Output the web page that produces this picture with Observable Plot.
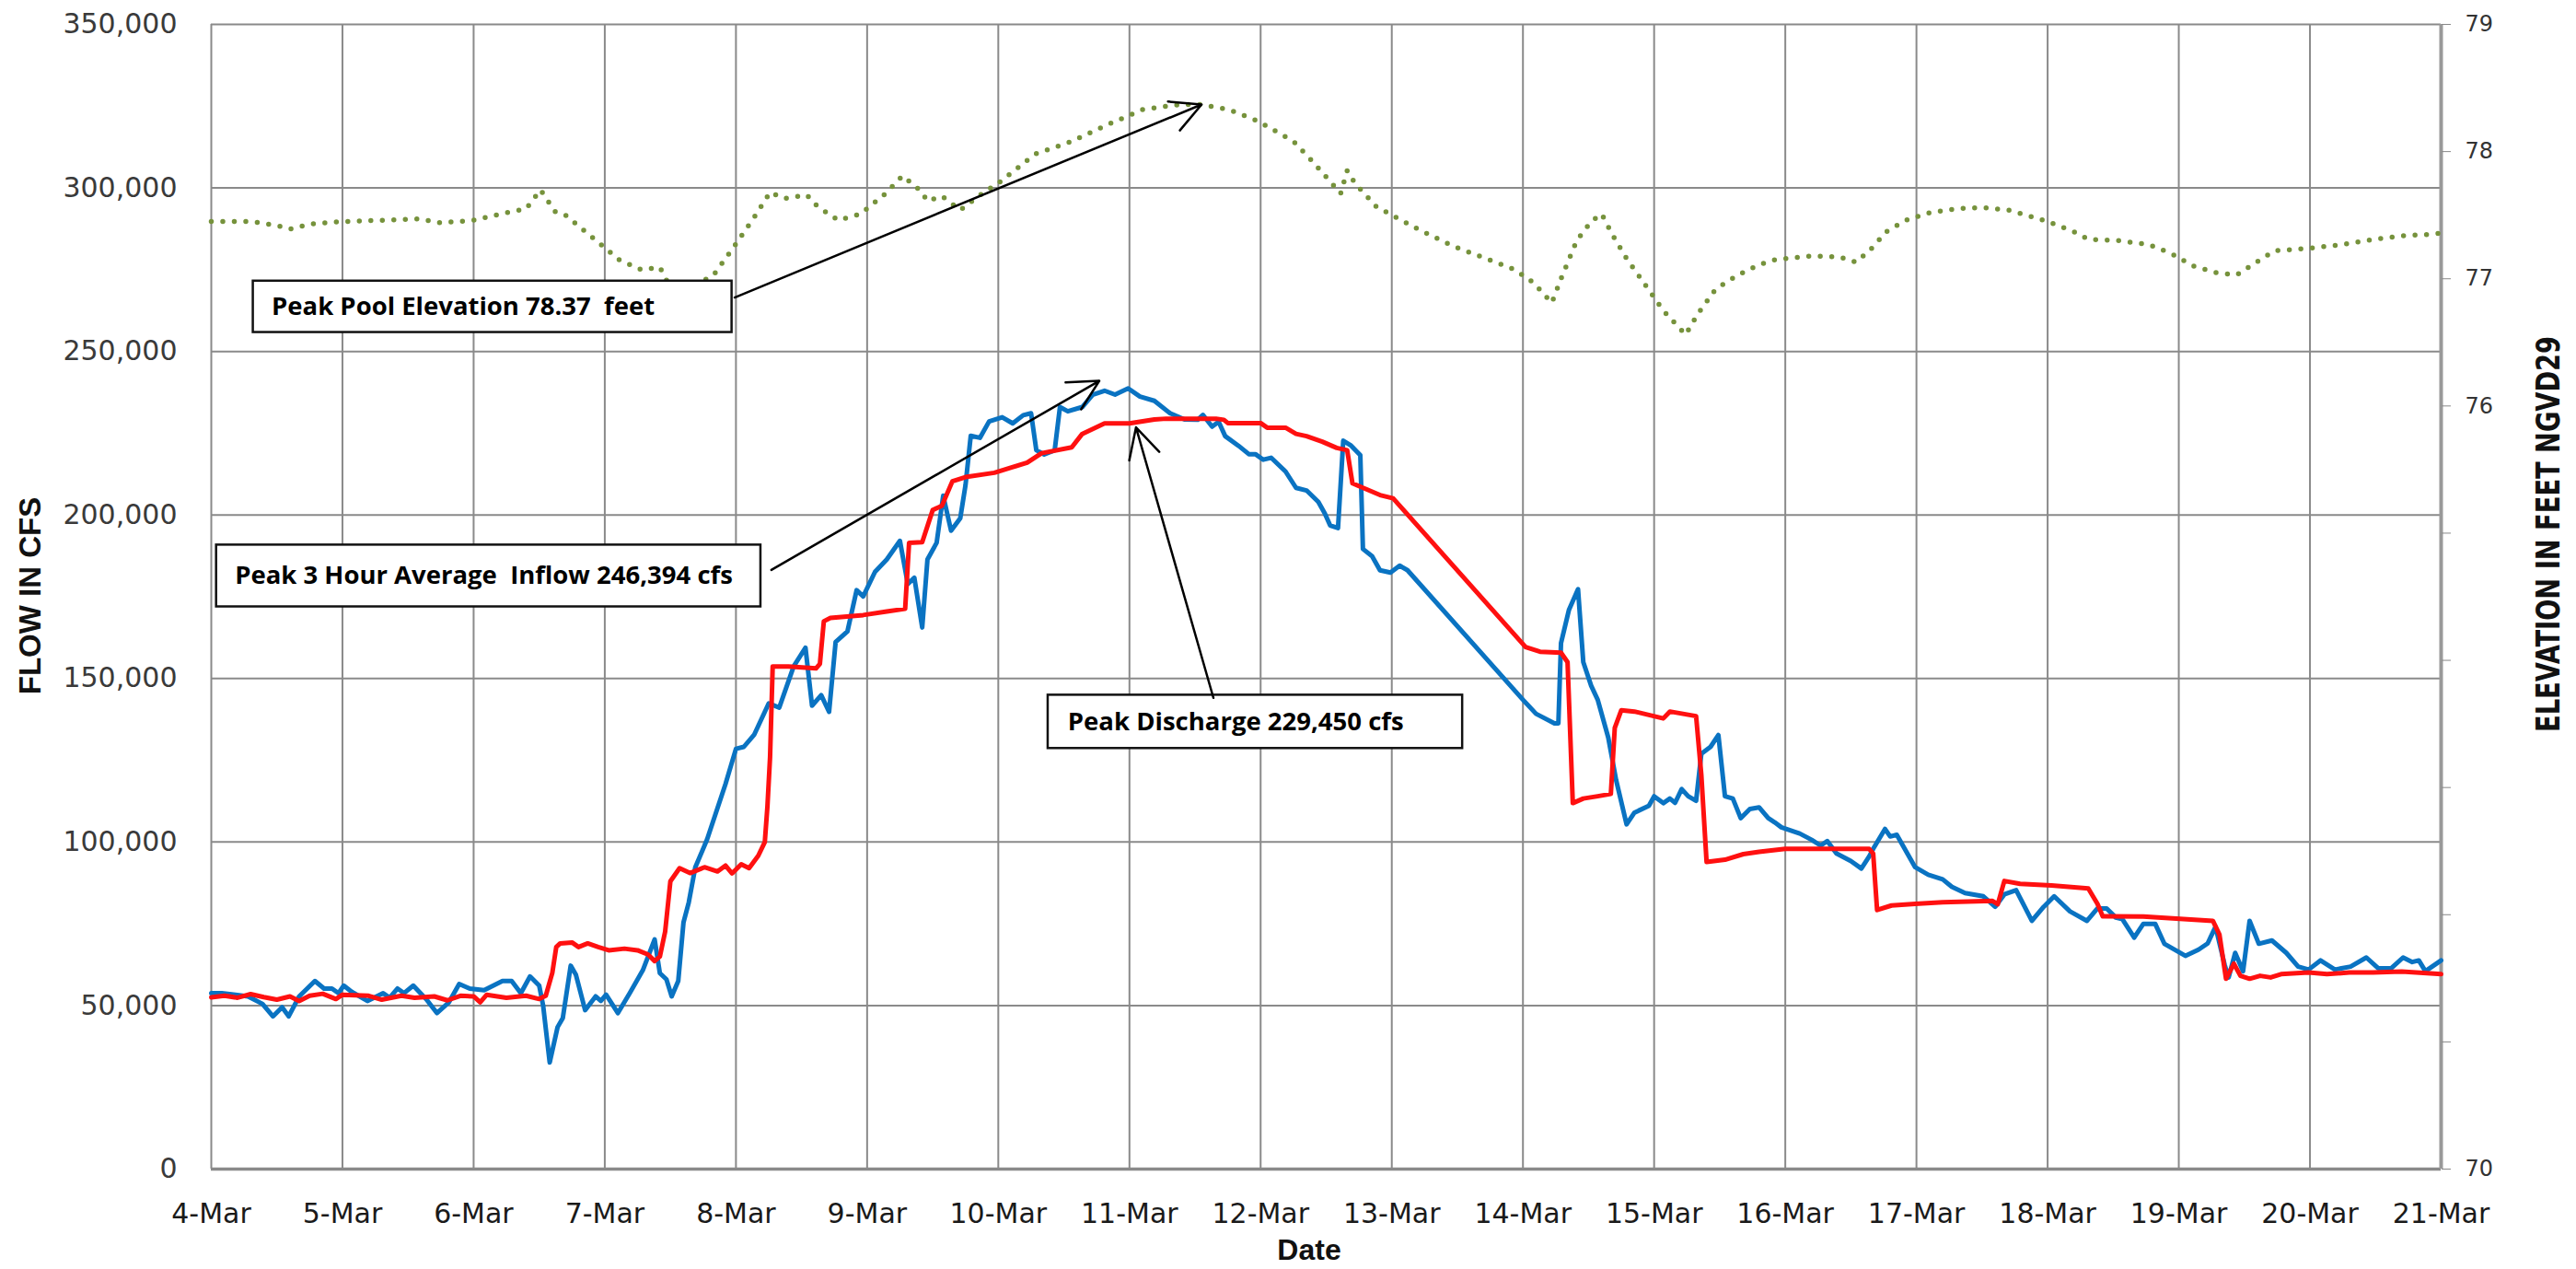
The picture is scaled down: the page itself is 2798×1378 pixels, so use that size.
<!DOCTYPE html>
<html><head><meta charset="utf-8">
<script src="https://cdn.jsdelivr.net/npm/d3@7"></script>
<script src="https://cdn.jsdelivr.net/npm/@observablehq/plot@0.6"></script>
<style>
html,body{margin:0;padding:0;background:#fff;}
#chart{width:2798px;height:1378px;overflow:hidden;}
</style></head><body><div id="chart"></div>
<script>
// ---- Axis categories / ticks ----
const days = d3.range(0, 18);                 // 0 = 4-Mar ... 17 = 21-Mar
const dayLabels = days.map(d => `${4 + d}-Mar`);
const flowTicks = d3.range(0, 350001, 50000);
const elevTicks = d3.range(70, 80);
const elevLabeled = [70, 76, 77, 78, 79];

// ---- Series: [day offset from 4-Mar, cfs] ----
const inflow = [
[0.00,53800],[0.08,53800],[0.28,52800],[0.39,50500],[0.47,46700],[0.54,49500],[0.59,46700],[0.67,52800],
[0.79,57500],[0.86,55200],[0.92,55200],[0.97,53800],[1.01,56100],[1.07,54200],[1.19,51400],[1.31,53800],
[1.36,52400],[1.42,55200],[1.47,53800],[1.54,56100],[1.64,51900],[1.72,47700],[1.81,50900],[1.89,56600],
[1.97,55200],[2.08,54700],[2.22,57500],[2.29,57500],[2.36,53800],[2.43,58900],[2.50,56100],[2.53,50000],
[2.58,32600],[2.64,43400],[2.68,46200],[2.74,62200],[2.78,59400],[2.85,48600],[2.93,52800],[2.97,51400],
[3.01,53300],[3.10,47700],[3.19,53800],[3.29,60800],[3.38,70200],[3.42,59900],[3.47,58000],[3.51,52800],
[3.56,57500],[3.60,75400],[3.64,81500],[3.69,92300],[3.78,100800],[3.92,117700],[4.00,128500],[4.06,129100],
[4.14,132900],[4.25,142400],[4.33,141100],[4.44,153700],[4.53,159400],[4.58,141700],[4.65,144900],[4.71,139800],
[4.76,161200],[4.85,164400],[4.92,177000],[4.97,175100],[5.06,182600],[5.15,186400],[5.25,192100],[5.31,178900],
[5.36,180800],[5.42,165600],[5.46,186400],[5.53,191500],[5.58,205900],[5.64,195200],[5.71,199000],[5.75,209100],
[5.79,224200],[5.86,223600],[5.93,228600],[6.03,229900],[6.11,228000],[6.19,230500],[6.25,231100],[6.29,219800],
[6.35,218500],[6.43,219800],[6.47,233000],[6.53,231700],[6.64,233000],[6.72,236800],[6.81,238000],[6.89,236800],
[6.99,238700],[7.08,236200],[7.19,234900],[7.31,231100],[7.42,229200],[7.52,229100],[7.56,230600],[7.63,227000],
[7.68,228500],[7.73,224100],[7.83,221200],[7.91,218600],[7.96,218600],[8.02,216900],[8.08,217500],[8.19,213300],
[8.27,208300],[8.35,207500],[8.44,204000],[8.49,200400],[8.53,196800],[8.59,196000],[8.63,222700],[8.69,221200],
[8.76,218300],[8.78,189600],[8.85,187400],[8.91,183100],[8.99,182400],[9.06,184500],[9.12,183100],[10.00,143500],
[10.10,139200],[10.24,136300],[10.27,136300],[10.29,160800],[10.35,170900],[10.42,177300],[10.46,155000],[10.52,147800],
[10.57,143500],[10.65,132000],[10.71,119000],[10.79,105400],[10.85,109000],[10.96,111100],[11.00,114000],[11.07,111900],
[11.12,113300],[11.16,112000],[11.21,116200],[11.26,114000],[11.32,112600],[11.36,127000],[11.43,129100],[11.49,132700],
[11.54,114000],[11.60,113300],[11.66,107300],[11.73,110100],[11.80,110600],[11.87,107300],[11.92,106000],[11.97,104500],
[12.11,102600],[12.20,100700],[12.27,98900],[12.32,100300],[12.39,96500],[12.50,94200],[12.58,91900],[12.64,95600],
[12.67,97900],[12.76,104000],[12.80,101700],[12.85,102200],[12.99,92300],[13.09,90000],[13.20,88600],[13.27,86300],
[13.37,84400],[13.51,83400],[13.60,80200],[13.67,84000],[13.76,85300],[13.88,75900],[13.97,80200],[14.05,83400],
[14.17,78800],[14.30,75900],[14.38,79700],[14.45,79700],[14.52,76900],[14.57,76400],[14.66,70800],[14.73,75000],
[14.82,75000],[14.89,68900],[15.05,65200],[15.15,67100],[15.22,69000],[15.28,74100],[15.35,62400],[15.38,58600],
[15.43,66100],[15.49,60500],[15.54,75900],[15.61,68900],[15.71,69900],[15.82,66100],[15.91,61900],[15.99,61000],
[16.08,63800],[16.19,61000],[16.31,61900],[16.43,64700],[16.52,61400],[16.62,61400],[16.71,64700],[16.78,63300],
[16.83,63800],[16.88,60500],[17.00,63800]
];

const discharge = [
[0.00,52500],[0.10,53000],[0.20,52400],[0.30,53500],[0.40,52600],[0.50,51800],[0.60,52800],[0.67,51400],
[0.75,53000],[0.85,53600],[0.95,52000],[1.00,53300],[1.20,53000],[1.30,51800],[1.45,53000],[1.55,52400],
[1.70,52800],[1.80,51600],[1.90,53000],[2.00,52800],[2.05,51000],[2.10,53300],[2.25,52400],[2.40,53000],
[2.50,52000],[2.55,53000],[2.60,60000],[2.63,67900],[2.66,69000],[2.75,69300],[2.80,67900],[2.87,69000],
[2.95,67900],[3.03,66900],[3.15,67400],[3.25,66900],[3.33,65600],[3.38,63600],[3.42,65000],[3.46,72600],
[3.50,88000],[3.57,92000],[3.65,90500],[3.76,92300],[3.86,91000],[3.92,92800],[3.97,90400],[4.04,93200],
[4.10,92000],[4.17,95800],[4.22,100000],[4.24,110900],[4.26,126000],[4.28,153700],[4.40,153700],[4.61,153100],
[4.64,154500],[4.67,167500],[4.72,168500],[4.97,169400],[5.15,170500],[5.29,171300],[5.32,191500],[5.42,191700],
[5.50,201500],[5.57,202800],[5.65,210300],[5.75,211600],[5.97,212900],[6.10,214500],[6.22,216000],[6.33,218900],
[6.56,220700],[6.64,224800],[6.81,228000],[7.00,228000],[7.19,229200],[7.28,229450],[7.50,229450],[7.66,229450],
[7.72,229100],[7.75,228100],[8.00,228100],[8.05,226700],[8.19,226700],[8.27,224800],[8.35,224100],[8.47,222400],
[8.58,220500],[8.66,219800],[8.70,209700],[8.74,209000],[8.91,206100],[9.01,205100],[10.02,159600],[10.13,158200],
[10.29,157900],[10.34,155000],[10.38,111900],[10.46,113300],[10.57,114000],[10.67,114700],[10.70,134900],[10.75,140300],
[10.85,139900],[11.07,137800],[11.12,139900],[11.32,138500],[11.36,120500],[11.40,93900],[11.54,94600],[11.68,96300],
[11.80,97000],[12.00,97900],[12.64,97900],[12.67,96500],[12.70,79200],[12.81,80600],[12.99,81100],[13.20,81600],
[13.58,82000],[13.62,81000],[13.67,88100],[13.79,87200],[14.03,86700],[14.31,85800],[14.38,81100],[14.42,77300],
[14.73,77200],[15.26,75900],[15.31,71700],[15.36,58200],[15.42,62800],[15.47,59100],[15.54,58200],[15.62,59100],
[15.70,58600],[15.78,59600],[15.99,60100],[16.13,59600],[16.30,60100],[16.48,60100],[16.70,60400],[17.00,59600]
];

// ---- Pool elevation: [day offset, feet NGVD29] ----
const poolElev = [
[0.00,77.45],[0.30,77.45],[0.50,77.42],[0.60,77.39],[0.75,77.43],[1.00,77.45],[1.30,77.46],[1.58,77.47],
[1.75,77.44],[2.00,77.46],[2.25,77.52],[2.40,77.55],[2.51,77.70],[2.62,77.53],[2.70,77.50],[2.90,77.33],
[3.11,77.15],[3.28,77.07],[3.42,77.09],[3.47,76.99],[3.60,76.90],[3.83,77.03],[3.99,77.26],[4.15,77.50],
[4.26,77.68],[4.37,77.63],[4.54,77.66],[4.62,77.57],[4.78,77.46],[4.95,77.51],[5.14,77.67],[5.27,77.81],
[5.41,77.69],[5.46,77.61],[5.57,77.65],[5.71,77.54],[5.85,77.65],[6.01,77.76],[6.28,77.98],[6.56,78.08],
[6.83,78.21],[7.10,78.33],[7.38,78.37],[7.54,78.37],[7.76,78.33],[7.98,78.24],[8.20,78.11],[8.26,78.07],
[8.38,77.94],[8.50,77.80],[8.61,77.67],[8.66,77.85],[8.72,77.75],[8.88,77.57],[9.00,77.50],[9.20,77.39],
[9.46,77.26],[9.74,77.15],[9.94,77.07],[10.08,76.97],[10.22,76.81],[10.29,77.00],[10.41,77.30],[10.52,77.45],
[10.60,77.51],[10.68,77.35],[10.79,77.16],[10.92,76.97],[11.07,76.75],[11.24,76.56],[11.33,76.72],[11.47,76.92],
[11.64,77.03],[11.80,77.11],[11.92,77.15],[12.20,77.18],[12.42,77.17],[12.54,77.13],[12.65,77.23],[12.77,77.37],
[12.92,77.46],[13.10,77.52],[13.30,77.55],[13.50,77.56],[13.70,77.54],[13.84,77.50],[14.00,77.45],[14.20,77.37],
[14.31,77.31],[14.54,77.30],[14.77,77.27],[14.94,77.20],[15.11,77.10],[15.28,77.05],[15.44,77.03],[15.56,77.11],
[15.73,77.22],[16.00,77.24],[16.25,77.27],[16.49,77.31],[16.72,77.34],[16.94,77.35],[17.00,77.36]
];

// ---- Annotation texts and anchors (data coordinates) ----
const noteTexts = ["Peak Pool Elevation 78.37  feet", "Peak 3 Hour Average  Inflow 246,394 cfs", "Peak Discharge 229,450 cfs"];
const noteBoxes = [
  {x1: 0.32, x2: 3.97, y1: 255800, y2: 271500, tx: 0.46, ty: 263600},
  {x1: 0.04, x2: 4.19, y1: 171900, y2: 190800, tx: 0.18, ty: 181400},
  {x1: 6.38, x2: 9.54, y1: 128600, y2: 144900, tx: 6.53, ty: 136700}
];
const noteArrows = [
  {x1: 3.99, y1: 266500, x2: 7.55, e2: 78.37},
  {x1: 4.27, y1: 183200, x2: 6.77, y2: 241000},
  {x1: 7.64, y1: 144100, x2: 7.05, y2: 226800}
];

// ---- Build ----
const elevToFlow = e => (e - 70) / 9 * 350000;
const flowToElev = q => q * 9 / 350000 + 70;

const inflowData = inflow.map(([d, q]) => ({d, q}));
const dischargeData = discharge.map(([d, q]) => ({d, q}));
const elevData = poolElev.map(([d, e]) => ({d, q: elevToFlow(e)}));
const boxes = noteBoxes.map((b, i) => ({...b, text: noteTexts[i]}));
const arrows = noteArrows.map(a => ({...a, y2: a.e2 !== undefined ? elevToFlow(a.e2) : a.y2}));

const gridColor = "#8a8a8a";

const chart = Plot.plot({
  width: 2798, height: 1378,
  marginLeft: 229, marginRight: 147, marginTop: 26, marginBottom: 109,
  style: {background: "#fff", fontFamily: "'DejaVu Sans', sans-serif", overflow: "visible"},
  x: {domain: [0, 17], label: null},
  y: {domain: [0, 350000], label: null},
  marks: [
    Plot.gridX(days, {stroke: gridColor, strokeOpacity: 1, strokeWidth: 2}),
    Plot.gridY(flowTicks, {stroke: gridColor, strokeOpacity: 1, strokeWidth: 2}),
    Plot.ruleY([0], {stroke: gridColor, strokeWidth: 3.5}),
    Plot.ruleX([17], {stroke: "#999", strokeWidth: 4}),
    Plot.axisX(days, {tickSize: 0, tickPadding: 37, fontSize: 30, tickFormat: d => dayLabels[d], color: "#1a1a1a", label: null}),
    Plot.axisY(flowTicks, {tickSize: 0, tickPadding: 37, fontSize: 30, tickFormat: d3.format(","), color: "#3a3a3a", label: null}),
    Plot.axisY(elevTicks.map(elevToFlow), {anchor: "right", tickSize: 10, tickPadding: 16, fontSize: 24,
      tickFormat: q => { const e = Math.round(flowToElev(q)); return elevLabeled.includes(e) ? String(e) : ""; },
      stroke: "#888", color: "#333", label: null}),
    Plot.line(inflowData, {x: "d", y: "q", stroke: "#0a73c2", strokeWidth: 5, strokeLinejoin: "round"}),
    Plot.line(dischargeData, {x: "d", y: "q", stroke: "#ff1010", strokeWidth: 5, strokeLinejoin: "round"}),
    Plot.line(elevData, {x: "d", y: "q", stroke: "#76923c", strokeWidth: 5.5, strokeLinecap: "round", strokeDasharray: "0 12.5"}),
    Plot.rect(boxes, {x1: "x1", x2: "x2", y1: "y1", y2: "y2", fill: "#fff", stroke: "#111", strokeWidth: 2.5}),
    Plot.text(boxes, {x: "tx", y: "ty", text: "text", textAnchor: "start", lineAnchor: "middle",
      fontSize: 27.5, fontWeight: 700, fontFamily: "'Open Sans', sans-serif", fill: "#000"}),
    Plot.arrow(arrows, {x1: "x1", y1: "y1", x2: "x2", y2: "y2", stroke: "#000", strokeWidth: 2.5, headLength: 22, headAngle: 55})
  ]
});
document.getElementById("chart").appendChild(chart);

// ---- Axis titles ----
const svg = d3.select(chart);
svg.append("text").text("FLOW IN CFS")
  .attr("transform", "translate(32,647) rotate(-90)")
  .attr("text-anchor", "middle").attr("dominant-baseline", "central")
  .attr("font-family", "'Liberation Sans', Arial, sans-serif").attr("font-weight", "bold")
  .attr("font-size", 33).attr("fill", "#111");
svg.append("text").text("ELEVATION IN FEET NGVD29")
  .attr("transform", "translate(2768,580) rotate(-90)")
  .attr("text-anchor", "middle").attr("dominant-baseline", "central")
  .attr("font-family", "'Liberation Sans Narrow', 'DejaVu Sans Condensed', 'Liberation Sans', sans-serif").attr("font-weight", "bold")
  .attr("font-size", 35).attr("fill", "#111")
  .attr("textLength", 430).attr("lengthAdjust", "spacingAndGlyphs");
svg.append("text").text("Date")
  .attr("x", 1422).attr("y", 1357)
  .attr("text-anchor", "middle").attr("dominant-baseline", "central")
  .attr("font-family", "'Liberation Sans', Arial, sans-serif").attr("font-weight", "bold")
  .attr("font-size", 32).attr("fill", "#111");
</script>
</body></html>
